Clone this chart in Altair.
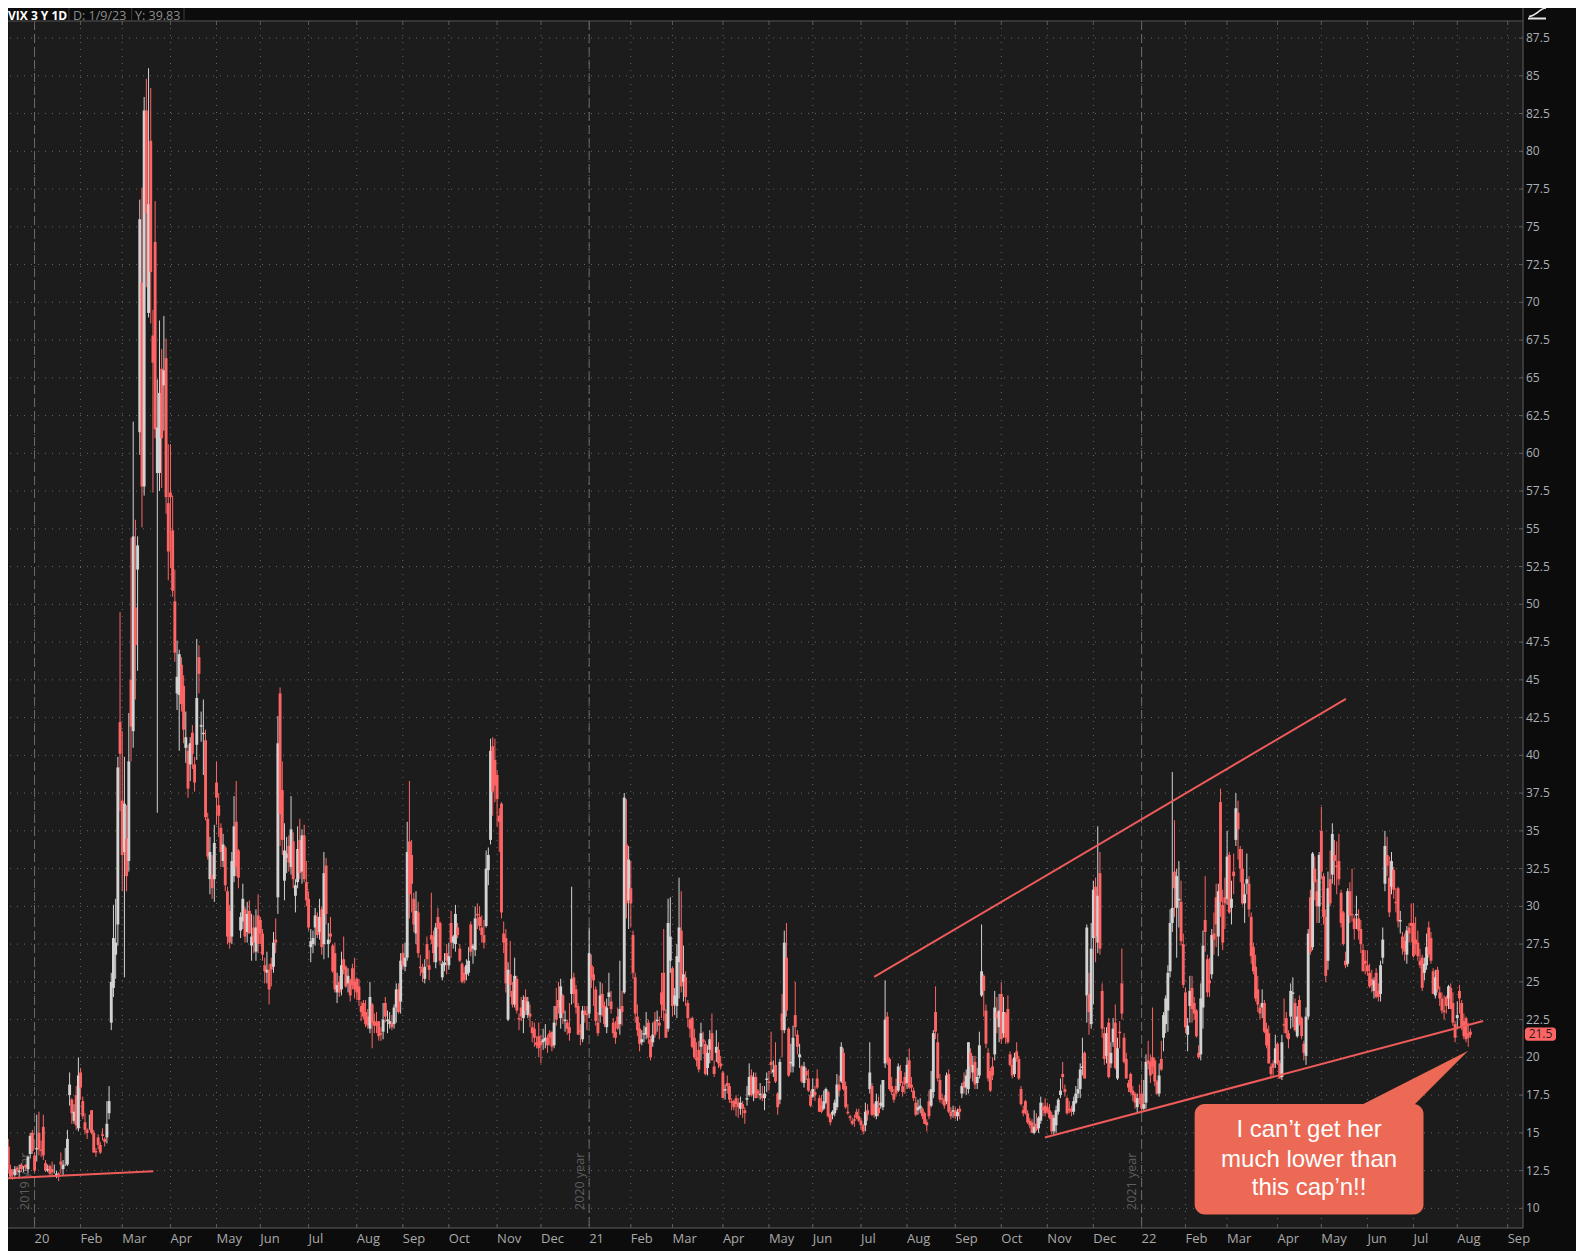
import altair as alt
import pandas as pd

# ---------------- daily VIX candles (open, high, low, close), one list per month ----------------
m2019_12 = [(15.6,15.9,13.8,13.9),(14.1,14.6,12.3,12.6),(12.6,12.9,12.0,12.1),(12.4,12.6,11.9,12.3),(12.2,12.8,12.1,12.6),
            (12.7,12.8,12.2,12.5),(12.4,12.9,12.0,12.5),(12.9,13.0,12.4,12.6),(12.7,12.8,12.4,12.7),(12.9,12.9,12.5,12.7),
            (12.6,13.5,12.3,13.4),(13.6,15.0,13.3,14.8),(15.0,15.2,13.6,13.8)]
m2020_01 = [(13.5,13.7,12.4,12.5),(13.9,16.2,13.1,14.0),(15.0,16.4,13.5,13.9),(13.9,14.5,13.4,13.8),(15.4,16.2,13.2,13.5),
            (13.0,13.2,12.4,12.5),(12.5,12.9,12.4,12.6),(12.8,12.9,12.1,12.3),(12.6,13.1,12.1,12.4),(12.4,12.9,12.3,12.4),
            (12.2,12.5,12.0,12.3),(12.3,12.4,11.8,12.1),(13.1,13.7,12.3,12.9),(12.6,13.2,12.2,12.9),(13.0,14.0,12.8,13.0),
            (12.9,15.2,12.8,14.6),(17.5,19.0,16.8,18.2),(17.2,17.3,15.6,16.3),(15.8,16.9,15.6,16.4),(17.5,18.1,15.2,15.5),
            (15.3,20.0,15.1,18.8)]
m2020_02 = [(19.0,19.3,17.2,18.0),(17.1,17.4,15.9,16.1),(15.7,16.3,14.9,15.2),(15.2,15.3,14.6,15.0),(15.5,16.2,15.2,15.5),
            (16.5,16.5,14.9,15.0),(15.0,15.2,13.7,13.7),(13.8,14.0,13.4,13.7),(14.7,14.9,13.9,14.2),(14.2,14.4,13.6,13.7),
            (14.9,15.3,14.5,14.8),(14.6,14.7,14.1,14.4),(14.7,17.1,14.3,15.6),(16.3,18.1,15.9,17.1),(22.3,25.6,21.8,25.0),
            (24.6,30.1,24.0,27.9),(26.8,30.5,25.2,27.6),(28.8,39.9,27.4,39.2),(42.2,49.5,36.3,40.1)]
m2020_03 = [(37.0,41.6,31.0,33.4),(33.6,39.9,25.3,36.8),(34.5,36.7,31.0,32.0),(33.0,42.8,32.3,39.6),(45.0,54.4,39.6,41.9),
            (41.6,62.1,40.5,54.5),(49.8,55.6,43.7,47.3),(52.3,54.5,45.6,53.9),(61.4,76.8,59.9,75.5),(71.3,77.6,55.1,57.8),
            (57.8,83.6,57.2,82.7),(82.7,84.8,71.0,75.9),(69.3,85.5,69.0,76.5),(80.7,84.2,68.6,72.0),(67.8,69.5,57.4,66.0),
            (74.0,76.7,61.0,61.6),(58.7,64.9,36.2,61.7),(58.7,68.8,57.5,64.0),(65.6,66.9,57.7,61.0),(64.5,69.1,61.5,65.5),
            (66.3,67.6,56.0,57.1),(56.7,60.6,51.6,53.5)]
m2020_04 = [(57.4,60.6,52.4,57.1),(54.9,57.2,50.5,50.9),(50.2,52.3,46.2,46.8),(44.1,47.6,43.0,45.2),(44.0,47.0,40.3,46.7),
            (46.0,46.5,42.9,43.4),(44.6,45.3,40.8,41.7),(40.5,42.9,39.5,41.2),(40.3,40.7,37.2,37.8),(39.4,41.2,38.3,40.8),
            (41.5,42.0,39.1,40.1),(39.4,39.9,37.6,38.2),(40.7,47.7,39.7,43.8),(46.5,47.3,44.1,45.4),(41.9,42.9,40.9,42.0),
            (41.4,43.7,38.7,41.5),(41.0,41.7,35.7,35.9),(35.8,36.2,33.1,33.3),(31.8,34.6,30.8,33.6),(32.1,33.4,30.5,31.2),
            (31.8,35.4,30.3,34.2)]
m2020_05 = [(38.2,39.6,35.4,37.2),(36.7,37.5,34.6,36.0),(35.2,35.5,32.6,33.6),(33.0,34.8,32.6,34.1),(33.9,34.0,31.0,31.4),
            (31.0,31.3,27.5,28.0),(29.7,30.1,27.2,27.6),(28.0,33.6,27.5,33.0),(32.0,37.3,31.6,35.3),(35.6,38.3,32.0,32.6),
            (33.7,33.8,31.2,31.9),(28.4,29.6,27.9,29.3),(29.0,31.5,28.5,30.5),(29.8,30.0,27.6,28.0),(28.3,30.3,27.6,29.5),
            (29.7,30.4,28.2,28.2),(27.4,29.5,26.4,28.0),(28.6,29.4,26.9,27.6),(27.0,29.8,26.4,28.6),(29.4,30.8,26.9,27.5)]
m2020_06 = [(29.1,29.3,27.5,28.2),(28.2,28.5,26.4,26.8),(26.1,26.6,24.9,25.7),(25.6,27.0,24.9,25.8),(25.8,26.2,23.5,24.5),
            (26.2,26.6,24.7,25.8),(26.0,28.3,25.6,27.6),(27.8,29.2,26.9,27.6),(30.6,42.6,29.5,40.8),(44.1,44.5,34.0,36.1),
            (37.7,39.6,33.4,34.4),(31.7,35.5,30.4,33.7),(33.2,34.6,32.2,33.5),(34.0,34.7,32.3,32.9),(32.6,37.3,32.1,35.1),
            (34.3,34.9,31.2,31.8),(30.7,31.8,29.6,31.4),(31.6,35.3,31.2,33.8),(34.4,35.8,31.8,32.2),(32.3,35.1,31.5,34.7),
            (34.7,35.4,31.6,31.8),(31.6,33.0,30.0,30.4)]
m2020_07 = [(30.5,31.0,28.4,28.6),(27.3,28.5,26.3,27.7),(27.5,28.4,26.9,27.9),(28.6,29.9,27.4,29.4),(29.3,29.6,27.9,28.1),
            (28.3,30.5,27.8,29.3),(29.8,30.0,26.8,27.3),(27.5,33.6,26.5,32.2),(32.7,33.2,28.8,29.5),(27.5,28.9,26.6,27.8),
            (28.2,29.3,27.6,28.0),(27.4,27.5,25.6,25.7),(26.9,27.6,24.3,24.5),(24.3,25.6,23.6,24.8),(25.0,25.4,24.0,24.3),
            (24.5,27.0,24.1,26.1),(26.5,28.0,25.5,25.8),(26.0,26.1,24.6,24.7),(24.9,25.9,24.3,25.4),(25.1,25.2,23.7,24.1),
            (25.9,26.2,24.5,24.8),(25.0,26.6,23.9,24.5)]
m2020_08 = [(25.2,25.3,23.8,24.3),(24.7,25.2,23.4,23.8),(23.4,23.7,22.4,23.0),(23.6,23.8,22.5,22.7),(23.0,23.8,22.0,22.2),
            (22.7,23.2,21.9,22.1),(21.9,25.0,21.6,24.0),(23.5,23.6,20.6,22.3),(22.4,22.9,21.6,22.1),(22.3,23.0,21.6,22.1),
            (22.4,22.4,21.1,21.4),(21.6,22.0,21.1,21.5),(21.7,23.6,21.2,22.5),(23.6,24.0,22.3,22.7),(22.4,23.1,21.6,22.5),
            (22.2,23.0,21.9,22.4),(22.3,22.8,21.8,22.0),(22.2,23.5,21.9,23.3),(23.3,24.9,22.3,24.5),(24.5,24.9,22.9,23.0),
            (23.7,26.9,22.9,26.4)]
m2020_09 = [(26.9,27.5,25.8,26.1),(26.0,27.6,25.7,26.6),(26.6,35.6,26.4,33.6),(34.3,38.3,29.2,30.8),(33.4,34.4,29.6,31.5),
            (30.5,30.9,28.3,28.8),(28.2,31.0,27.5,29.7),(29.6,30.3,26.6,26.9),(26.0,26.8,25.4,25.9),(25.9,26.2,25.0,25.6),
            (25.2,26.5,24.9,26.0),(27.5,28.0,26.0,26.5),(26.1,27.1,25.1,25.8),(28.1,30.9,27.5,27.8),(28.0,28.4,26.3,26.9),
            (26.3,28.9,25.9,28.6),(29.3,29.9,27.3,28.5),(28.9,29.0,26.1,26.4),(25.3,26.4,25.1,26.2),(26.1,26.9,25.7,26.3),
            (26.9,27.5,25.5,26.4)]
m2020_10 = [(26.1,27.6,25.8,26.7),(28.9,29.7,26.6,27.6),(27.6,28.1,27.2,28.0),(27.5,30.1,27.0,29.5),(28.6,28.9,27.9,28.1),
            (27.2,27.5,26.3,26.4),(26.2,26.3,24.9,25.0),(25.6,26.0,24.9,25.1),(25.5,26.5,25.1,26.1),(25.6,27.3,25.4,26.4),
            (28.8,29.0,26.7,27.0),(27.2,27.5,26.2,27.4),(27.1,30.0,26.7,29.2),(29.5,30.2,28.5,29.4),(29.3,30.0,28.4,28.7),
            (28.6,29.4,27.6,28.1),(28.1,29.1,27.2,27.6),(28.7,33.7,28.6,32.5),(32.4,33.9,31.4,33.4),(34.4,41.1,34.1,40.3),
            (40.6,41.2,36.0,37.6),(39.7,41.1,36.9,38.0)]
m2020_11 = [(38.7,39.0,35.3,37.1),(36.0,36.5,33.6,35.6),(36.8,36.9,29.2,29.6),(28.2,29.0,26.9,27.6),(27.9,28.5,24.3,24.9),
            (22.5,26.3,22.4,25.8),(25.5,27.7,24.0,24.8),(24.4,25.0,23.3,23.5),(23.5,26.6,23.3,25.4),(25.2,25.4,22.9,23.1),
            (22.6,22.9,21.8,22.5),(23.3,24.0,22.4,22.7),(22.6,24.1,21.6,23.8),(24.0,24.5,22.8,23.1),(22.8,24.0,22.6,23.7),
            (22.9,23.5,22.0,22.7),(22.0,22.4,21.0,21.6),(21.9,22.3,20.7,21.3),(21.0,21.4,20.6,20.8),(21.4,22.3,20.0,20.6)]
m2020_12 = [(21.1,21.5,19.6,20.8),(21.0,21.9,20.5,21.2),(21.1,22.2,20.6,21.3),(21.3,21.5,20.3,20.8),(21.6,21.8,20.8,21.3),
            (21.7,21.7,20.4,20.7),(20.8,23.4,20.6,22.3),(23.4,24.6,22.1,22.5),(23.8,25.0,22.9,23.3),(22.6,25.2,21.9,24.7),
            (24.1,24.2,22.2,22.9),(22.4,23.1,21.7,22.5),(22.3,22.5,21.5,21.9),(22.0,23.6,21.1,21.6),(24.2,31.3,23.5,25.2),
            (25.3,25.6,23.6,24.2),(24.5,24.8,22.9,23.3),(23.4,23.6,21.5,21.5),(21.8,22.2,20.8,21.7),(21.2,23.4,21.0,23.1),
            (23.1,23.4,22.3,22.8),(22.9,23.4,21.8,22.8)]
m2021_01 = [(22.9,28.6,22.6,26.9),(26.1,26.8,24.6,25.3),(25.5,26.0,23.4,25.1),(24.5,24.7,22.1,22.4),(22.3,23.0,21.4,21.6),
            (22.8,25.0,22.3,24.1),(24.2,24.9,22.7,23.3),(23.4,23.7,22.0,22.2),(22.0,23.9,21.6,23.3),(24.0,25.6,23.4,24.3),
            (23.7,24.4,22.9,23.2),(22.3,22.6,21.3,21.6),(21.7,22.4,20.9,21.3),(22.7,23.3,21.8,21.9),(22.2,26.4,21.5,23.2),
            (23.4,24.4,22.1,23.0),(24.3,37.5,24.2,37.2),(34.1,37.1,29.2,30.2),(30.4,34.0,28.5,33.1)]
m2021_02 = [(31.2,33.0,28.6,30.2),(28.1,28.4,25.2,25.6),(25.3,25.6,22.3,22.9),(22.7,23.5,21.4,21.8),(21.9,22.3,20.4,20.9),
            (21.0,21.8,20.8,21.2),(21.5,22.1,21.0,21.6),(21.5,23.0,21.2,22.0),(22.3,22.5,20.9,21.3),(21.2,21.4,19.8,20.0),
            (21.0,22.3,20.7,21.5),(22.4,23.0,21.3,21.5),(22.4,23.1,21.7,22.5),(22.3,22.7,21.2,22.1),(24.3,25.6,22.6,23.5),
            (25.6,28.5,22.4,23.1),(22.9,23.2,21.3,21.3),(21.9,30.5,21.7,28.9),(26.4,30.6,25.6,28.0)]
m2021_03 = [(25.9,26.0,22.7,23.4),(23.5,24.6,22.8,24.1),(23.4,27.5,22.6,26.7),(26.3,31.9,23.9,28.6),(28.4,31.0,24.3,24.7),
            (25.0,27.4,23.7,25.5),(25.3,25.7,23.4,24.0),(23.6,23.8,22.0,22.6),(22.5,22.6,21.3,21.9),(22.6,22.7,20.6,20.7),
            (21.3,21.9,19.9,20.0),(20.0,21.0,19.4,19.8),(20.5,21.1,19.0,19.2),(20.7,22.3,19.8,21.6),(21.2,21.7,20.2,21.0),
            (20.9,21.1,18.8,18.9),(19.3,20.8,18.8,20.3),(20.5,21.8,19.6,21.2),(21.6,22.9,19.8,19.8),(19.4,19.8,18.7,18.9),
            (20.3,21.8,19.7,20.7),(20.5,21.0,19.3,19.6),(19.6,20.1,19.2,19.4)]
m2021_04 = [(19.0,19.1,17.3,17.3),(17.8,18.2,17.2,17.9),(18.3,18.8,17.6,18.1),(18.1,18.3,17.0,17.2),(17.1,17.3,16.5,17.0),
            (17.1,17.2,16.5,16.7),(17.3,17.5,16.1,16.9),(17.0,17.3,16.0,16.7),(16.6,17.4,16.2,17.0),(16.9,17.1,16.0,16.6),
            (16.5,16.7,15.6,16.3),(17.2,18.1,16.8,17.3),(17.5,19.6,17.4,18.7),(18.8,19.2,17.4,17.5),(17.6,19.0,17.1,18.7),
            (18.7,19.0,17.3,17.3),(17.8,17.9,17.3,17.6),(17.5,18.3,17.2,17.6),(17.5,18.1,17.1,17.3),(17.3,18.1,16.5,17.6),
            (18.5,19.0,17.7,18.6)]
m2021_05 = [(18.4,19.1,17.8,18.3),(19.7,21.7,18.9,19.5),(19.0,19.8,18.7,19.2),(19.5,21.0,18.3,18.4),(17.6,17.7,16.2,16.7),
            (17.2,19.9,16.9,19.7),(22.9,24.2,20.0,21.8),(21.8,28.4,21.6,27.6),(26.6,28.9,22.7,23.1),(21.9,22.0,18.7,18.8),
            (19.6,20.9,19.0,19.7),(19.4,22.1,19.0,21.3),(22.8,25.0,21.4,22.0),(21.5,21.8,20.2,20.7),(20.0,20.9,19.3,20.2),
            (19.4,19.5,18.3,18.4),(18.3,19.7,18.0,19.4),(19.1,19.3,18.5,18.8),(18.6,19.2,17.7,17.8),(17.5,17.8,16.7,16.8)]
m2021_06 = [(17.4,18.6,17.3,17.9),(17.7,18.1,17.1,17.5),(18.6,19.2,17.9,18.0),(17.3,17.5,16.4,16.4),(16.8,17.5,16.3,16.4),
            (16.6,17.8,16.5,17.1),(17.0,18.0,16.9,17.9),(17.7,17.8,16.0,16.1),(16.2,16.3,15.5,15.7),(16.2,16.5,15.9,16.4),
            (16.3,17.2,16.1,17.0),(16.7,18.9,16.5,18.2),(18.2,18.8,17.4,17.8),(18.4,21.0,18.3,20.7),(20.3,20.6,17.8,17.9),
            (18.1,18.4,16.6,16.7),(16.4,16.9,16.2,16.3),(16.1,16.2,15.8,16.0),(15.8,16.0,15.5,15.6),(15.9,16.2,15.4,15.8),
            (16.4,16.6,15.9,16.0),(16.1,16.6,15.7,15.8)]
m2021_07 = [(15.8,16.0,15.2,15.5),(15.5,15.6,14.9,15.1),(15.5,17.0,15.1,16.4),(16.5,16.9,15.8,16.2),(17.9,21.0,17.6,19.0),
            (18.1,18.3,16.1,16.2),(16.9,17.0,16.0,16.2),(16.1,17.6,15.9,17.1),(16.7,17.4,16.1,16.3),(16.8,18.2,16.6,17.0),
            (16.7,18.5,16.5,18.5),(19.6,25.1,19.3,22.5),(22.7,23.0,19.5,19.7),(19.9,20.0,17.8,17.9),(18.1,18.7,17.5,17.7),
            (17.6,17.9,17.0,17.2),(18.1,18.6,17.4,17.6),(17.8,19.6,17.7,19.4),(19.1,19.5,18.1,18.3),(18.1,18.4,17.4,17.7),
            (18.7,19.0,17.6,18.2)]
m2021_08 = [(18.3,20.0,17.9,19.5),(19.8,20.6,17.9,18.0),(18.2,18.7,17.7,18.0),(17.8,18.0,17.1,17.3),(17.0,17.4,16.1,16.2),
            (16.5,17.2,16.2,16.7),(16.6,17.3,16.3,16.8),(16.6,16.7,15.9,16.1),(16.3,16.4,15.6,15.6),(15.7,15.9,15.1,15.5),
            (17.1,17.8,15.9,16.1),(16.8,19.1,16.7,17.9),(17.7,21.8,17.3,21.6),(23.0,24.7,21.2,21.7),(21.0,21.6,18.4,18.6),
            (18.5,18.9,17.0,17.2),(17.3,17.6,16.9,17.2),(17.2,17.5,16.6,16.8),(17.1,19.0,16.9,18.8),(18.9,19.2,16.3,16.4),
            (16.4,16.7,15.9,16.1),(16.4,16.8,16.0,16.5)]
m2021_09 = [(16.5,16.7,15.9,16.1),(16.1,16.6,15.8,16.4),(16.6,16.8,15.9,16.4),(17.6,18.3,17.3,18.1),(18.4,19.0,17.6,18.0),
            (18.0,19.2,17.5,18.8),(17.9,21.0,17.6,21.0),(20.3,20.6,18.6,19.4),(19.0,20.1,18.4,19.5),(19.7,20.1,17.9,18.2),
            (18.3,19.3,17.9,18.7),(18.8,21.7,18.6,20.8),(24.1,28.8,24.0,25.7),(25.4,25.5,22.7,24.4),(23.1,23.5,20.6,20.9),
            (20.3,20.6,18.4,18.6),(19.1,19.3,17.7,17.8),(19.4,20.0,18.5,18.8),(20.2,24.4,19.8,23.3),(23.0,24.0,21.6,22.6),
            (22.0,24.2,21.0,23.1)]
m2021_10 = [(24.2,25.0,20.9,21.2),(21.6,24.0,21.3,23.0),(22.9,23.0,20.9,21.3),(23.2,24.1,20.9,21.0),(20.2,20.4,19.4,19.5),
            (19.5,19.9,18.6,18.8),(18.9,20.3,18.7,20.0),(20.4,21.0,19.7,19.9),(19.9,20.1,18.5,18.6),(17.9,18.1,16.8,16.9),
            (16.5,16.8,16.1,16.3),(17.1,17.2,16.2,16.3),(16.3,16.5,15.6,15.7),(15.8,16.0,15.3,15.5),(15.7,15.9,15.0,15.0),
            (15.0,16.5,14.9,15.4),(15.6,16.3,15.1,15.2),(15.3,16.1,15.0,16.0),(15.8,17.4,15.6,17.0),(16.7,17.0,16.1,16.5),
            (16.8,17.3,16.1,16.3)]
m2021_11 = [(16.7,17.0,16.3,16.4),(16.5,16.9,15.9,16.0),(16.2,16.4,14.9,15.1),(15.1,16.2,14.9,16.0),(15.5,16.8,15.0,16.5),
            (16.4,17.3,16.2,17.2),(17.5,18.6,17.3,17.8),(18.9,19.7,17.9,18.7),(17.9,18.2,17.4,17.7),(17.3,17.4,16.2,16.3),
            (16.6,17.1,16.3,16.5),(16.6,16.8,16.1,16.4),(16.4,17.4,16.2,17.1),(17.0,18.1,16.9,17.6),(17.6,18.6,17.3,17.9),
            (17.9,19.6,17.3,19.2),(19.3,21.3,18.8,19.4),(20.3,20.4,18.6,18.6),(24.1,28.8,22.3,28.6),(24.2,25.6,21.5,23.0),
            (22.2,28.9,21.9,27.2)]
m2021_12 = [(27.9,31.7,23.5,31.1),(31.3,31.9,26.3,28.0),(27.6,35.3,26.9,30.7),(32.2,33.6,26.8,27.2),(24.4,24.9,21.3,21.9),
            (21.6,22.0,19.5,19.9),(20.1,22.0,19.6,21.6),(22.3,22.6,18.6,18.7),(19.6,21.0,19.3,20.3),(21.0,22.6,20.7,21.9),
            (22.3,23.5,19.2,19.3),(18.6,21.3,18.5,20.6),(21.7,22.4,20.6,21.6),(24.9,27.2,22.5,22.9),(21.3,21.6,19.6,19.7),
            (19.9,20.3,18.6,18.6),(18.3,18.5,17.7,18.0),(18.9,19.0,17.6,17.7),(17.8,18.1,17.1,17.5),(17.6,17.7,16.6,17.0),
            (16.7,17.6,16.3,17.3),(17.3,18.2,16.9,17.2)]
m2022_01 = [(17.6,18.5,16.4,16.6),(16.6,18.5,16.5,16.9),(17.0,20.2,16.6,19.7),(19.8,21.1,19.2,19.6),(19.7,20.2,18.3,18.8),
            (20.0,23.3,18.9,19.4),(19.8,20.0,18.1,18.4),(18.4,18.5,17.5,17.6),(17.6,19.6,17.4,18.8),(19.9,21.1,19.1,19.2),
            (21.3,23.0,20.4,22.8),(22.2,24.1,21.6,23.9),(23.1,26.1,21.7,25.6),(25.7,29.8,25.3,28.9),(28.9,38.9,28.3,29.9),
            (32.3,35.7,29.3,31.2),(29.9,32.5,26.6,32.0),(30.4,33.0,28.6,30.5),(30.3,31.7,27.4,27.7),(27.5,28.2,24.6,24.8)]
m2022_02 = [(24.3,24.6,21.6,22.0),(21.5,22.6,20.4,22.1),(23.4,25.4,22.3,24.4),(24.6,25.4,22.3,23.2),(23.6,24.0,22.5,22.9),
            (23.1,23.2,21.3,21.4),(20.3,20.8,19.9,20.0),(20.2,24.9,19.8,23.9),(23.3,28.4,21.9,27.4),(29.1,32.0,27.0,28.3),
            (26.5,26.8,24.0,24.3),(25.1,26.6,24.0,24.9),(25.5,28.5,25.2,28.1),(28.2,29.6,26.8,27.8),(30.6,31.5,27.3,28.8),
            (28.0,31.5,26.7,31.0),(36.9,37.8,29.3,30.3),(30.1,31.1,27.1,27.6),(30.6,31.9,28.5,30.2)]
m2022_03 = [(30.5,35.0,30.1,33.3),(33.4,33.6,29.5,29.6),(29.9,31.7,28.8,30.5),(32.3,33.5,30.8,32.0),(34.4,37.5,34.0,36.5),
            (36.2,37.0,33.1,35.1),(33.8,34.0,31.6,32.5),(32.5,33.8,30.1,30.2),(30.2,31.5,28.9,30.8),(31.5,33.5,30.8,31.8),
            (31.5,32.0,29.3,29.8),(29.3,29.6,26.2,26.7),(27.3,27.6,25.5,25.7),(26.0,26.8,23.7,23.9),(24.5,25.4,23.0,23.5),
            (23.3,23.5,22.5,22.9),(23.3,24.5,22.6,23.6),(23.6,23.8,21.6,21.7),(21.9,22.3,20.6,20.8),(21.6,22.1,19.6,19.6),
            (19.4,19.6,18.6,18.9),(19.6,19.8,18.7,19.3),(19.6,21.5,19.3,20.6)]
m2022_04 = [(20.9,21.0,19.5,19.6),(19.6,19.8,18.6,18.6),(18.7,21.5,18.5,21.0),(22.2,23.9,21.6,22.1),(22.6,23.0,21.3,21.6),
            (21.6,21.8,20.6,21.2),(22.7,24.9,21.9,24.4),(24.2,25.3,22.0,24.3),(23.6,23.9,21.7,21.8),(21.4,23.4,21.3,22.7),
            (23.8,24.1,22.1,22.2),(22.6,22.7,21.2,21.4),(20.9,21.1,19.8,20.3),(20.1,23.3,19.5,22.7),(22.7,28.5,22.5,28.2),
            (30.6,31.1,26.8,27.0),(27.3,33.6,27.1,33.5),(32.5,33.3,30.4,31.6),(31.0,31.8,28.9,30.0),(30.0,33.6,28.9,33.4)]
m2022_05 = [(35.0,36.6,31.8,32.3),(32.0,32.2,28.8,29.3),(29.3,29.8,25.0,25.4),(26.4,32.3,25.8,31.2),(31.8,33.7,30.0,30.2),
            (32.1,35.5,31.5,34.8),(33.4,34.4,31.4,33.0),(32.7,34.3,30.8,32.6),(33.0,34.8,31.4,31.8),(30.9,31.1,28.6,28.9),
            (29.6,29.7,27.4,27.5),(26.4,27.0,25.9,26.1),(26.2,31.2,26.0,31.0),(31.0,31.6,28.9,29.4),(29.5,32.5,29.0,29.4),
            (29.2,29.4,27.8,28.5),(29.4,30.7,28.5,29.5),(29.2,29.8,27.8,28.4),(28.5,29.1,26.9,27.5),(27.1,27.5,25.7,25.7),
            (26.4,27.1,25.5,26.2)]
m2022_06 = [(26.1,27.1,25.4,25.7),(25.6,26.2,24.6,24.7),(25.2,25.8,24.3,24.8),(24.4,25.3,23.9,25.1),(25.6,25.9,23.9,24.0),
            (24.4,24.9,23.7,24.0),(24.2,26.4,23.7,26.1),(26.6,28.6,26.2,27.8),(31.5,35.0,31.0,34.0),(33.4,34.6,32.0,32.7),
            (31.9,33.3,29.3,29.6),(31.3,33.6,30.8,33.0),(32.4,32.6,30.5,31.1),(30.3,31.2,29.6,30.2),(31.2,31.3,28.6,29.0),
            (29.0,29.7,28.2,29.1),(28.0,28.3,26.8,27.2),(27.7,28.2,26.4,27.0),(26.8,28.7,26.2,28.4),(28.6,28.9,27.6,28.2),
            (28.9,30.2,27.6,28.7)]
m2022_07 = [(28.9,30.2,26.6,26.7),(27.8,29.3,26.8,27.5),(27.6,28.4,26.4,26.7),(26.4,27.2,25.9,26.1),(26.6,26.8,24.4,24.6),
            (25.6,26.6,25.1,26.2),(26.1,28.2,25.8,27.3),(28.6,29.0,26.6,26.8),(27.9,28.3,26.2,26.4),(25.7,25.9,24.2,24.2),
            (24.1,25.8,23.9,25.3),(25.8,26.0,24.3,24.5),(24.3,24.7,23.4,23.9),(23.9,24.3,22.9,23.1),(23.1,24.1,22.5,23.0),
            (24.0,24.1,22.9,23.4),(23.9,24.8,23.2,24.7),(24.6,24.9,23.2,23.2),(23.6,24.3,22.1,22.3),(22.2,22.4,21.0,21.3)]
m2022_08 = [(22.6,23.7,21.9,22.8),(24.4,24.8,22.9,23.9),(23.6,23.8,21.8,22.0),(22.4,22.9,21.2,21.4),(22.6,22.7,21.0,21.2),
            (21.6,22.3,20.7,21.3),(21.7,21.9,21.3,21.5)]

MONTHS = {
    "2019-12": m2019_12, "2020-01": m2020_01, "2020-02": m2020_02, "2020-03": m2020_03, "2020-04": m2020_04,
    "2020-05": m2020_05, "2020-06": m2020_06, "2020-07": m2020_07, "2020-08": m2020_08, "2020-09": m2020_09,
    "2020-10": m2020_10, "2020-11": m2020_11, "2020-12": m2020_12, "2021-01": m2021_01, "2021-02": m2021_02,
    "2021-03": m2021_03, "2021-04": m2021_04, "2021-05": m2021_05, "2021-06": m2021_06, "2021-07": m2021_07,
    "2021-08": m2021_08, "2021-09": m2021_09, "2021-10": m2021_10, "2021-11": m2021_11, "2021-12": m2021_12,
    "2022-01": m2022_01, "2022-02": m2022_02, "2022-03": m2022_03, "2022-04": m2022_04, "2022-05": m2022_05,
    "2022-06": m2022_06, "2022-07": m2022_07, "2022-08": m2022_08,
}

# market holidays (no candle)
HOLIDAYS = ["2019-12-25", "2020-01-01", "2020-01-20", "2020-02-17", "2020-04-10", "2020-05-25", "2020-07-03",
            "2020-09-07", "2020-11-26", "2020-12-25", "2021-01-01", "2021-01-18", "2021-02-15", "2021-04-02",
            "2021-05-31", "2021-07-05", "2021-09-06", "2021-11-25", "2021-12-24", "2022-01-17", "2022-02-21",
            "2022-04-15", "2022-05-30", "2022-06-20", "2022-07-04", "2022-09-05"]

Y_TICKS = [10, 12.5, 15, 17.5, 20, 22.5, 25, 27.5, 30, 32.5, 35, 37.5, 40, 42.5, 45, 47.5, 50, 52.5, 55, 57.5,
           60, 62.5, 65, 67.5, 70, 72.5, 75, 77.5, 80, 82.5, 85, 87.5]
YEAR_LABELS = ["2019 year", "2020 year", "2021 year"]

# annotations, in (trading-day index, VIX value)
TREND_LINES = {"left": [(-0.46, 11.99), (67.2, 12.45)],
               "upper": [(396.0, 25.33), (611.2, 43.74)],
               "lower": [(473.9, 14.69), (673.8, 22.41)]}
CALLOUT_BOX = (542.2, 646.6, 9.60, 16.91)
CALLOUT_PTR = [(616.9, 16.75), (641.6, 16.75), (667.0, 20.44)]
CALLOUT_LINES = ["I can\u2019t get her", "much lower than", "this cap\u2019n!!"]
CALLOUT_LINE_V = [14.74, 12.75, 10.88]
CALLOUT_X = 594.4
LAST_PRICE = "21.5"
LAST_PRICE_V = 21.54
HEADER = ["VIX 3 Y 1D", "D: 1/9/23", "Y: 39.83"]

# ---------------- build tables ----------------
days = pd.bdate_range("2019-12-12", "2022-09-30", freq="C", holidays=HOLIDAYS)
cal = pd.DataFrame({"date": days})
cal["i"] = range(len(cal))
cal["ym"] = cal["date"].dt.strftime("%Y-%m")

UP, DOWN = "#d2d2d2", "#ff6464"
rows = []
for ym, candles in MONTHS.items():
    idx = cal.loc[cal["ym"] == ym, "i"].tolist()
    for i, (o, h, l, c) in zip(idx, candles):
        rows.append({"i": i, "o": o, "h": h, "l": l, "c": c, "col": UP if c >= o else DOWN})
df = pd.DataFrame(rows)

first = cal.groupby("ym", sort=True).head(1)
first = first[(first["ym"] >= "2020-01") & (first["ym"] <= "2022-09")]
tick_idx = [int(v) for v in first["i"]]
tick_lab = [d.strftime("%y") if d.month == 1 else d.strftime("%b") for d in first["date"]]
year_idx = [int(i) for i, d in zip(first["i"], first["date"]) if d.month == 1]

year_df = pd.DataFrame({"i": year_idx, "ti": [v - 1.2 for v in year_idx], "v": 9.9, "t": YEAR_LABELS})
trend_df = pd.DataFrame([{"seg": k, "i": p[0], "v": p[1]} for k, pts in TREND_LINES.items() for p in pts])
box_df = pd.DataFrame({"i1": [CALLOUT_BOX[0]], "i2": [CALLOUT_BOX[1]], "v1": [CALLOUT_BOX[2]], "v2": [CALLOUT_BOX[3]]})
(ax_, ay_), (bx_, by_), (tx_, ty_) = CALLOUT_PTR
mid_top = ay_ + (bx_ - ax_) / (tx_ - ax_) * (ty_ - ay_)
ptr_df = pd.DataFrame({"i": [ax_, bx_, tx_], "top": [ay_, mid_top, ty_], "bot": [ay_, by_, ty_]})
ctext_df = pd.DataFrame({"i": CALLOUT_X, "v": CALLOUT_LINE_V, "t": CALLOUT_LINES})
tick_df = pd.DataFrame({"i": tick_idx, "lab": tick_lab})
ytick_df = pd.DataFrame({"v": Y_TICKS, "lab": ["%g" % v for v in Y_TICKS]})
one = pd.DataFrame({"k": [0]})
bub_df = pd.DataFrame({"v": [LAST_PRICE_V], "v1": [LAST_PRICE_V - 0.44], "v2": [LAST_PRICE_V + 0.44], "t": [LAST_PRICE]})
hdr_df = pd.DataFrame({"x": [65, 127], "t": HEADER[1:]})
sep_df = pd.DataFrame({"x": [61, 123.7, 176]})

# ---------------- chart ----------------
W, H = 1515, 1207
AX = "#5a5a5a"
GRID = "#686868"
TREND = "#ef5a5a"
CALLOUT = "#ec6955"
FONT = "Open Sans"
ICON = "#e6e6e6"

# icon squiggle, pixel offsets right of / above the plot
icon_df = pd.DataFrame({"px": [W + 6, W + 9, W + 13, W + 17, W + 21, W + 23],
                        "py": [-4.5, -5.2, -7.5, -10.5, -12.6, -13.0]})

xs = alt.Scale(domain=[3.17, 689.7], nice=False, zero=False)
ys = alt.Scale(domain=[8.70, 88.63], nice=False, zero=False)


def X(f):
    return alt.X(f, scale=xs, axis=None, title=None)


def Y(f):
    return alt.Y(f, scale=ys, axis=None, title=None)


def PX(f):
    return alt.X(f, scale=None, axis=None, title=None)


def PY(f):
    return alt.Y(f, scale=None, axis=None, title=None)


# grid, axis lines and axis labels drawn as marks
vgrid = alt.Chart(tick_df).mark_rule(color=GRID, strokeDash=[1, 6], strokeWidth=1).encode(x=X("i:Q"))
hgrid = alt.Chart(ytick_df).mark_rule(color=GRID, strokeDash=[1, 6], strokeWidth=1).encode(y=Y("v:Q"))
xlabels = alt.Chart(tick_df).mark_text(font=FONT, fontSize=13, color="#a9a9a9", align="left",
                                       baseline="top").encode(x=X("i:Q"), y=alt.value(H + 5), text="lab:N")
ylabels = alt.Chart(ytick_df).mark_text(font=FONT, fontSize=12, color="#aab0b6", align="left",
                                        baseline="middle").encode(x=alt.value(W + 3), y=Y("v:Q"), text="lab:N")
bottom_line = alt.Chart(one).mark_rule(color=AX).encode(x=alt.value(0), x2=alt.value(W), y=alt.value(H))
right_line = alt.Chart(one).mark_rule(color=AX).encode(x=alt.value(W), y=alt.value(-13), y2=alt.value(H))
top_border = alt.Chart(one).mark_rule(color=AX).encode(x=alt.value(0), x2=alt.value(W), y=alt.value(0))

year_rules = alt.Chart(year_df).mark_rule(color="#6c6c6c", strokeDash=[9, 4], strokeWidth=1).encode(x=X("i:Q"))
year_text = alt.Chart(year_df).mark_text(angle=270, align="left", baseline="bottom", font=FONT, fontSize=12.5,
                                         color="#5e5e5e").encode(x=X("ti:Q"), y=Y("v:Q"), text="t:N")
wicks = alt.Chart(df).mark_rule(strokeWidth=1, clip=True).encode(
    x=X("i:Q"), y=Y("l:Q"), y2="h:Q", color=alt.Color("col:N", scale=None))
bodies = alt.Chart(df).mark_bar(size=2.9, clip=True).encode(
    x=X("i:Q"), y=Y("o:Q"), y2="c:Q", color=alt.Color("col:N", scale=None))
trend = alt.Chart(trend_df).mark_line(color=TREND, strokeWidth=2, clip=True).encode(
    x=X("i:Q"), y=Y("v:Q"), detail="seg:N")
ptr = alt.Chart(ptr_df).mark_area(color=CALLOUT, orient="vertical").encode(x=X("i:Q"), y=Y("top:Q"), y2="bot:Q")
box = alt.Chart(box_df).mark_rect(color=CALLOUT, cornerRadius=10).encode(
    x=X("i1:Q"), x2="i2:Q", y=Y("v1:Q"), y2="v2:Q")
ctext = alt.Chart(ctext_df).mark_text(font="Liberation Sans", fontSize=24, color="#ffffff", align="center",
                                      baseline="alphabetic").encode(x=X("i:Q"), y=Y("v:Q"), text="t:N")
top_ticks = alt.Chart(tick_df).mark_rule(color=AX).encode(x=X("i:Q"), y=alt.value(0), y2=alt.value(4))
bot_ticks = alt.Chart(tick_df).mark_rule(color=AX).encode(x=X("i:Q"), y=alt.value(H - 4), y2=alt.value(H))
right_ticks = alt.Chart(ytick_df).mark_rule(color=AX).encode(x=alt.value(W - 4), x2=alt.value(W), y=Y("v:Q"))
seps = alt.Chart(sep_df).mark_rule(color="#3c3c3c").encode(x=PX("x:Q"), y=alt.value(-13), y2=alt.value(0))
hdr_bold = alt.Chart(one).mark_text(font=FONT, fontSize=12, fontWeight="bold", color="#ffffff", align="left",
                                    baseline="middle").encode(x=alt.value(0), y=alt.value(-5.5),
                                                              text=alt.value(HEADER[0]))
hdr_rest = alt.Chart(hdr_df).mark_text(font=FONT, fontSize=12.5, color="#8c8c8c", align="left",
                                       baseline="middle").encode(x=PX("x:Q"), y=alt.value(-5.5), text="t:N")
bubble = alt.Chart(bub_df).mark_rect(color="#ff6464", cornerRadius=3).encode(
    x=alt.value(W + 2), x2=alt.value(W + 33), y=Y("v1:Q"), y2="v2:Q")
bubble_text = alt.Chart(bub_df).mark_text(font=FONT, fontSize=12, color="#1e1e1e", align="center",
                                          baseline="middle").encode(x=alt.value(W + 17.5), y=Y("v:Q"), text="t:N")
icon_bar = alt.Chart(one).mark_rule(color=ICON, strokeWidth=2).encode(
    x=alt.value(W + 5), x2=alt.value(W + 23), y=alt.value(-2.5))
icon_wave = alt.Chart(icon_df).mark_line(color=ICON, strokeWidth=1.5, interpolate="monotone").encode(
    x=PX("px:Q"), y=PY("py:Q"))

chart = alt.layer(
    vgrid, hgrid, year_rules, year_text, wicks, bodies, trend, ptr, box, ctext,
    top_ticks, bot_ticks, right_ticks, top_border, bottom_line, right_line, xlabels, ylabels,
    seps, hdr_bold, hdr_rest, bubble, bubble_text, icon_bar, icon_wave,
).properties(
    width=W, height=H,
    padding={"left": 0, "top": 13, "right": 53, "bottom": 30},
    autosize=alt.AutoSizeParams(type="none"),
).configure(background="#0c0c0c").configure_view(fill="#1c1c1c", stroke="transparent")

chart.save("out.html", embed_options={"renderer": "svg", "actions": False})
